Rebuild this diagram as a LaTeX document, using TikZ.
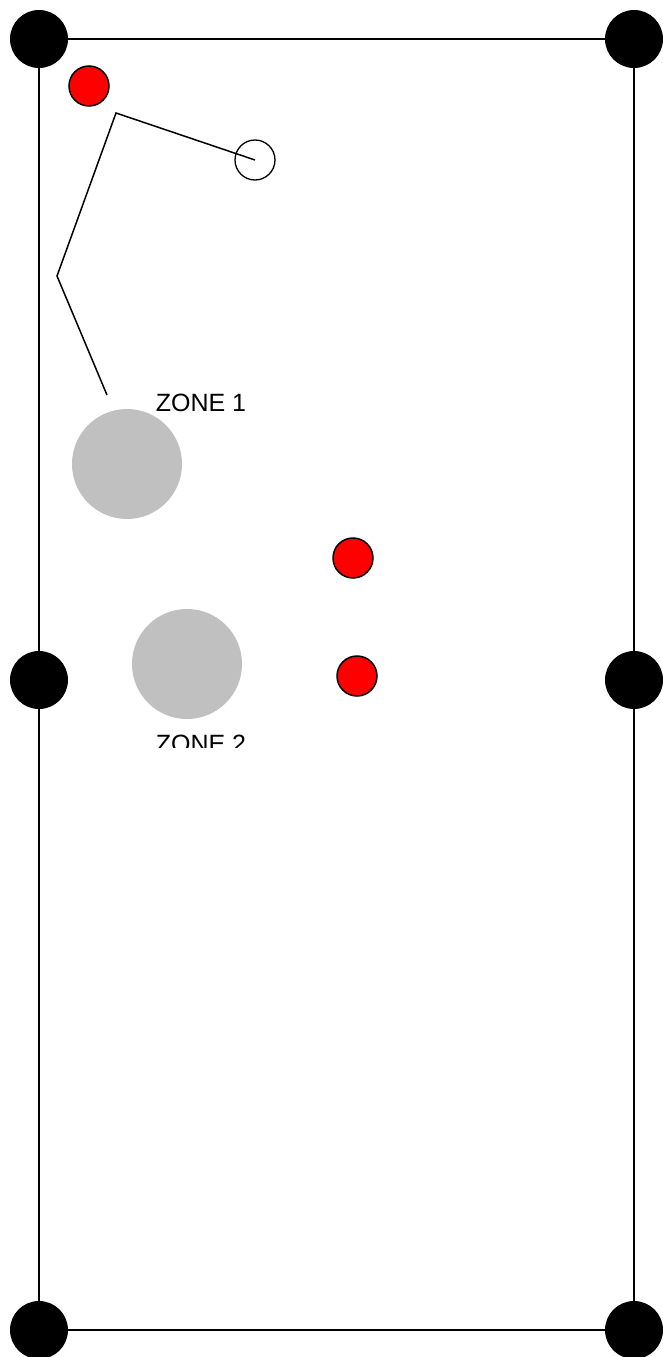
\documentclass[tikz,border=0pt]{standalone}
\usepackage{fontspec}
\setmainfont{Liberation Sans}
\usetikzlibrary{backgrounds}
\definecolor{zonegray}{RGB}{192,192,192}
\begin{document}
\begin{tikzpicture}[x=1pt,y=-1pt,
  corner/.style={circle,fill=black,minimum size=58pt,inner sep=0pt},
  reddot/.style={circle,fill=red,draw=black,line width=1.5pt,minimum size=40pt,inner sep=0pt},
  opendot/.style={circle,draw=black,line width=1.3pt,minimum size=40pt,inner sep=0pt},
  zone/.style={circle,fill=zonegray,minimum size=110pt,inner sep=0pt},
  edge/.style={line width=1.5pt},
  ztext/.style={font=\fontsize{25}{30}\selectfont,inner sep=0pt,anchor=base}]
\useasboundingbox (0,0) rectangle (662,1357);
% corner / mid dots
\node[corner] (tl) at (39,39) {};
\node[corner] (tr) at (634,39) {};
\node[corner] (ml) at (39,680) {};
\node[corner] (mr) at (634,680) {};
\node[corner] (bl) at (39,1330) {};
\node[corner] (br) at (634,1330) {};
\begin{scope}[on background layer]
\draw[edge] (tl.center) -- (tr.center);
\draw[edge] (tl.center) -- (ml.center) -- (bl.center) -- (br.center) -- (mr.center) -- (tr.center);
\end{scope}
% red dots
\node[reddot] (r1) at (89,86) {};
\node[reddot] (r2) at (353,558) {};
\node[reddot] (r3) at (357,676) {};
% polyline to open circle
\node[opendot] (oc) at (255,160) {};
\coordinate (p1) at (107,395);
\coordinate (p2) at (57,276);
\coordinate (p3) at (116,113);
\draw[edge,line join=miter] (p1) -- (p2) -- (p3) -- (oc.center);
% zones
\node[zone] (z1) at (127,464) {};
\node[zone] (z2) at (187,664) {};
\node[ztext] (t1) at (201,411) {ZONE 1};
\begin{scope}
\clip (100,700) rectangle (300,747);
\node[ztext] (t2) at (201,752) {ZONE 2};
\end{scope}
\end{tikzpicture}
\end{document}
